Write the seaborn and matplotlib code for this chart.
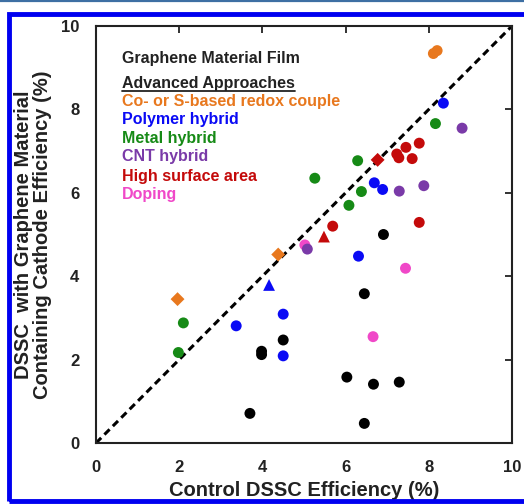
import numpy as np
import pandas as pd
import matplotlib
matplotlib.use("Agg")
import matplotlib.pyplot as plt
from matplotlib.patches import Rectangle
from matplotlib.lines import Line2D
import seaborn as sns

# ---- data (control efficiency, graphene cathode efficiency) ----
film_x = [3.98, 3.98, 4.50, 3.70, 6.91, 6.45, 6.03, 6.67, 7.29, 6.45]
film_y = [2.20, 2.12, 2.47, 0.71, 5.00, 3.58, 1.58, 1.41, 1.46, 0.47]

redox_x = [1.96, 4.38, 8.11, 8.20]
redox_y = [3.45, 4.52, 9.34, 9.41]
redox_m = ["D", "D", "o", "o"]

polymer_x = [3.37, 4.50, 4.50, 6.31, 8.35, 6.69, 6.89, 4.16]
polymer_y = [2.81, 3.09, 2.09, 4.48, 8.15, 6.24, 6.08, 3.79]
polymer_m = ["o", "o", "o", "o", "o", "o", "o", "^"]

metal_x = [2.10, 1.98, 6.08, 8.16, 6.29, 5.26, 6.38]
metal_y = [2.88, 2.17, 5.70, 7.66, 6.77, 6.35, 6.03]

doping_x = [5.02, 7.44, 6.66]
doping_y = [4.75, 4.19, 2.55]

cnt_x = [5.08, 8.80, 7.29, 7.88]
cnt_y = [4.65, 7.55, 6.04, 6.17]

surface_x = [5.69, 7.77, 7.77, 7.45, 7.23, 7.28, 7.60, 5.48, 6.77]
surface_y = [5.20, 5.29, 7.19, 7.09, 6.93, 6.84, 6.82, 4.95, 6.79]
surface_m = ["o", "o", "o", "o", "o", "o", "o", "^", "D"]

labels = ["Co- or S-based redox couple", "Polymer hybrid", "Metal hybrid",
          "CNT hybrid", "High surface area", "Doping"]
ticks = [0, 2, 4, 6, 8, 10]

colors = {
    "Graphene Material Film": "#000000",
    "Co- or S-based redox couple": "#e8781e",
    "Polymer hybrid": "#0a0af5",
    "Metal hybrid": "#168a16",
    "CNT hybrid": "#7a3aa8",
    "High surface area": "#c40a0a",
    "Doping": "#f048c8",
}

rows = []
def add(xs, ys, grp, ms=None):
    for i, (a, b) in enumerate(zip(xs, ys)):
        rows.append(dict(x=a, y=b, group=grp, shape=(ms[i] if ms else "o")))

add(film_x, film_y, "Graphene Material Film")
add(redox_x, redox_y, labels[0], redox_m)
add(polymer_x, polymer_y, labels[1], polymer_m)
add(metal_x, metal_y, labels[2])
add(doping_x, doping_y, labels[5])
add(cnt_x, cnt_y, labels[3])
add(surface_x, surface_y, labels[4], surface_m)
df = pd.DataFrame(rows)

sns.set_style("white")
plt.rcParams["font.family"] = ["Liberation Sans", "DejaVu Sans"]
plt.rcParams["font.weight"] = "bold"

fig = plt.figure(figsize=(5.24, 5.04), dpi=100)
ax = fig.add_axes([96/524, 1-443/504, 416/524, 417/504])

# diagonal
ax.plot([0, 10], [0, 10], color="black", lw=2.2, ls=(0, (2.4, 1.5)), zorder=1)

sns.scatterplot(data=df, x="x", y="y", hue="group", palette=colors,
                style="shape", markers={"o": "o", "D": "D", "^": "^"},
                size="shape", sizes={"o": 62, "D": 50, "^": 72},
                edgecolor="none", linewidth=0, legend=False, ax=ax, zorder=3)

ax.set_xlim(0, 10)
ax.set_ylim(0, 10)
ax.set_xticks(ticks)
ax.set_yticks(ticks)
ax.set_xticklabels([str(t) for t in ticks])
ax.set_yticklabels([str(t) for t in ticks])
ax.tick_params(direction="in", length=5, width=1.3, top=True, right=True,
               labelsize=12, pad=12, colors="#222222", labelcolor="#222222")
for sp in ax.spines.values():
    sp.set_linewidth(1.5)
    sp.set_color("#222222")
    sp.set_visible(True)

ax.set_xlabel("Control DSSC Efficiency (%)", fontsize=14.5, fontweight="bold",
              color="#222222")
ax.xaxis.set_label_coords(0.5, -0.09)
ax.set_ylabel("")
fig.text(33/524, 1-234.5/504,
         "DSSC  with Graphene Material\nContaining Cathode Efficiency (%)",
         rotation=90, ha="center", va="center", multialignment="center",
         fontsize=14.5, fontweight="bold", color="#222222", linespacing=1.05)

# in-plot legend texts
x0 = 0.63
ax.text(x0, 9.23, "Graphene Material Film", fontsize=11.5, fontweight="bold",
        color="#222222", va="center")
t_adv = ax.text(x0, 8.63, "Advanced Approaches", fontsize=11.5, fontweight="bold",
                color="#222222", va="center")
ys = [8.18, 7.75, 7.31, 6.86, 6.40, 5.97]
for lab, yv in zip(labels, ys):
    ax.text(x0, yv, lab, fontsize=11.5, fontweight="bold", color=colors[lab],
            va="center")

fig.canvas.draw()
bb = t_adv.get_window_extent().transformed(ax.transData.inverted())
ax.plot([bb.x0, bb.x1], [8.44, 8.44], color="#222222", lw=1.3)

# outer frame
fig.add_artist(Line2D([0, 1], [1-1.2/504, 1-1.2/504], transform=fig.transFigure,
                      color="#3d6fa3", lw=1.6))
fig.add_artist(Rectangle((9/524, 1-500.5/504), 1.2, (500.5-13.5)/504,
                         transform=fig.transFigure, fill=False,
                         edgecolor="#0000f0", lw=3.5, clip_on=False))

fig.savefig("out.png", dpi=100)
